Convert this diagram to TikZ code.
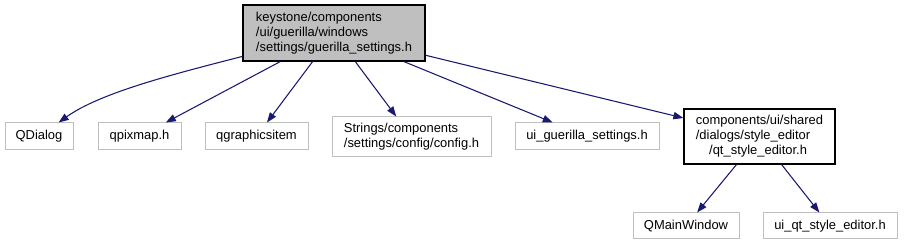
\documentclass[tikz,border=0pt]{standalone}
\usepackage{fontspec}
\setmainfont{Liberation Sans}
\usetikzlibrary{arrows.meta}
\definecolor{edgeblue}{HTML}{191970}
\definecolor{boxgray}{HTML}{BFBFBF}
\begin{document}
\begin{tikzpicture}[x=0.75pt, y=-0.75pt, >={Triangle[length=7.5pt, width=5.5pt]},
    every node/.style={font=\fontsize{9.7}{11.2}\selectfont, inner sep=0pt, align=left},
    file/.style={draw=boxgray, line width=0.75pt, fill=white, minimum height=20.25pt},
    edge/.style={->, edgeblue, line width=0.8pt}]
    \useasboundingbox (0,0) rectangle (904,245);

    % ================= 当前文件 =================
    \node[draw=black, fill=boxgray, line width=0.9pt, minimum width=136.5pt, minimum height=42pt]
        (guerilla) at (334,33) {keystone/components\\/ui/guerilla/windows\\/settings/guerilla\_settings.h};

    % ================= 第一层包含 =================
    \node[file, minimum width=51pt]    (qdialog)  at (39,136.5)    {QDialog};
    \node[file, minimum width=62.25pt] (qpixmap)  at (139.5,136.5) {qpixmap.h};
    \node[file, minimum width=77.25pt] (qgraphic) at (256.5,136.5) {qgraphicsitem};
    \node[file, minimum width=119.25pt, minimum height=30pt]
        (config) at (411.5,137) {Strings/components\\/settings/config/config.h};
    \node[file, minimum width=108pt]   (uiguer)   at (587,136.5)   {ui\_guerilla\_settings.h};
    \node[draw=black, fill=white, line width=0.9pt, minimum width=113.25pt, minimum height=41.25pt]
        (styleed) at (759.5,136.5) {components/ui/shared\\/dialogs/style\_editor\\\hspace*{10pt}/qt\_style\_editor.h};

    % ================= 第二层包含 =================
    \node[file, minimum width=79.5pt,  minimum height=19.5pt] (qmainwin) at (686,226) {QMainWindow};
    \node[file, minimum width=100.5pt, minimum height=19.5pt] (uiqtstyle) at (830,226) {ui\_qt\_style\_editor.h};

    % 连线
    \draw[edge] (guerilla) .. controls (170,75) and (100,93) .. (qdialog);
    \draw[edge] (guerilla) -- (qpixmap);
    \draw[edge] (guerilla) -- (qgraphic);
    \draw[edge] (guerilla) -- (config);
    \draw[edge] (guerilla) -- (uiguer);
    \draw[edge] (guerilla) -- (styleed);
    \draw[edge] (styleed) -- (qmainwin);
    \draw[edge] (styleed) -- (uiqtstyle);
\end{tikzpicture}
\end{document}
